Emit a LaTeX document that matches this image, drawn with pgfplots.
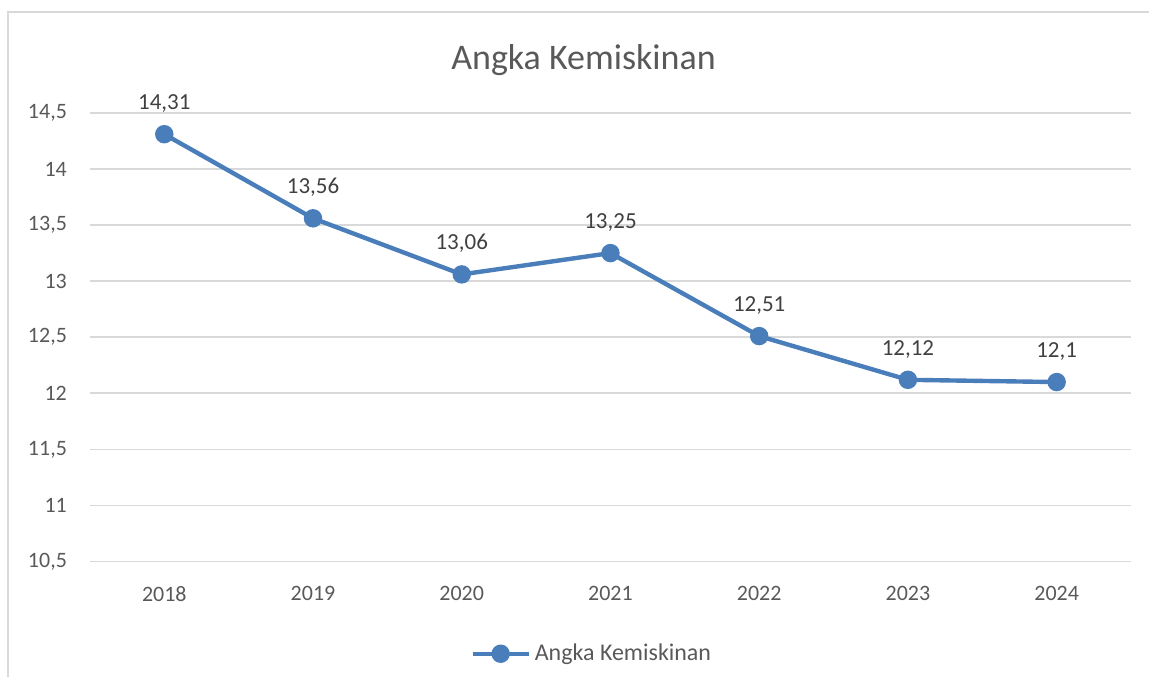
\documentclass[border=0pt]{standalone}
\usepackage{fontspec}
\setmainfont{Carlito}
\usepackage{pgfplots}
\pgfplotsset{compat=1.18}
\definecolor{serieblue}{HTML}{4A7EBB}
\definecolor{gridgray}{HTML}{D9D9D9}
\definecolor{ticktext}{HTML}{595959}
\definecolor{labeltext}{HTML}{404040}

\begin{document}
\begin{tikzpicture}
% page is 1150 x 678 px, 1px = 0.5pt
\path (0pt,0pt) rectangle (575pt,339pt);
\draw[gridgray,line width=1pt] (4pt,0pt) -- (4pt,333pt) -- (575pt,333pt);
\node[text=ticktext,font=\fontsize{18}{21}\selectfont] at (292pt,309pt) {Angka Kemiskinan};
\begin{axis}[
    at={(45pt,58pt)}, anchor=south west,
    scale only axis, width=521pt, height=224.5pt,
    xmin=-0.5, xmax=6.5, ymin=10.5, ymax=14.5,
    xtick={0,...,6}, xticklabels={2018,2019,2020,2021,2022,2023,2024},
    ytick={10.5,11,...,14.5},
    /pgf/number format/use comma,
    /pgf/number format/assume math mode=true,
    ymajorgrids, grid style={gridgray,line width=0.8pt},
    axis x line*=bottom, axis y line*=left,
    x axis line style={gridgray,line width=0.8pt,-},
    y axis line style={draw=none},
    major tick length=0pt,
    tick label style={text=ticktext,font=\fontsize{11}{13}\selectfont},
    yticklabel style={xshift=-8pt},
    xticklabel style={yshift=-9pt},
    nodes near coords,
    every node near coord/.append style={text=labeltext,font=\fontsize{11.5}{13}\selectfont,yshift=6.5pt},
    clip=false,
    legend style={at={(0.483,-0.165)},anchor=north,draw=none,fill=none,
        font=\fontsize{12}{14}\selectfont,text=ticktext,
        /tikz/every even column/.append style={column sep=1pt}},
    legend image code/.code={
        \draw[#1,line width=2.2pt] (0pt,0pt) -- (28pt,0pt);
        \fill[serieblue] (14pt,0pt) circle (3.5pt);},
]
\addplot[serieblue,line width=2.2pt,mark=*,mark size=3.5pt,
    mark options={fill=serieblue,draw=serieblue}] coordinates {
 (0,14.31) (1,13.56) (2,13.06) (3,13.25) (4,12.51) (5,12.12) (6,12.1)
};
\addlegendentry{Angka Kemiskinan}
\end{axis}
\end{tikzpicture}
\end{document}
